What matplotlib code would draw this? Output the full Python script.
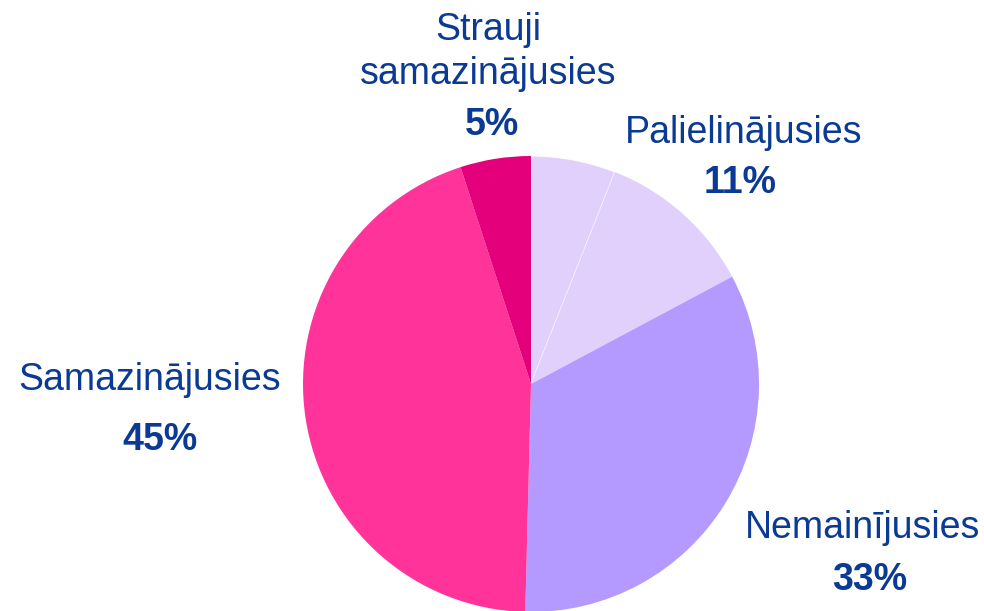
import matplotlib.pyplot as plt

labels = ['', 'Palielinājusies', 'Nemainījusies', 'Samazinājusies',
          'Strauji\nsamazinājusies']
# shares; labels show them rounded
shares = [6.0, 11.2, 33.2, 44.6, 5.0]
colors = ['#E1D0FB', '#E1D0FB', '#B499FF', '#FF3399', '#E3007A']

# label anchor (name centre, percent centre) in pixel coords, y from top
label_pos = [None,
             ((744, 133), (740, 183)),
             ((863, 528), (870, 580)),
             ((150, 380), (160, 440)),
             ((488, 52), (492, 125))]

W, H = 984, 611
TXT = '#0A3A94'

plt.rcParams['font.family'] = ['Liberation Sans', 'DejaVu Sans']

fig = plt.figure(figsize=(W / 100, H / 100), dpi=100)
ax = fig.add_axes([0, 0, 1, 1])

wedges, _ = ax.pie(shares, colors=colors, startangle=90, counterclock=False,
                   center=(531, H - 384), radius=228,
                   wedgeprops=dict(linewidth=0))
# thin white split between the two light slices
wedges[0].set_edgecolor('white')
wedges[0].set_linewidth(0.8)

# pie() resets the limits, so set them afterwards
ax.set_xlim(0, W)
ax.set_ylim(0, H)
ax.set_aspect('equal')
ax.axis('off')

for lab, val, pos in zip(labels, shares, label_pos):
    if pos is None:
        continue
    (nx, ny), (px, py) = pos
    ax.text(nx, H - ny, lab, ha='center', va='center', fontsize=27,
            color=TXT, linespacing=1.25)
    ax.text(px, H - py, f'{val:.0f}%', ha='center', va='center', fontsize=27,
            color=TXT, fontweight='bold')

fig.savefig('out.png', dpi=100)
